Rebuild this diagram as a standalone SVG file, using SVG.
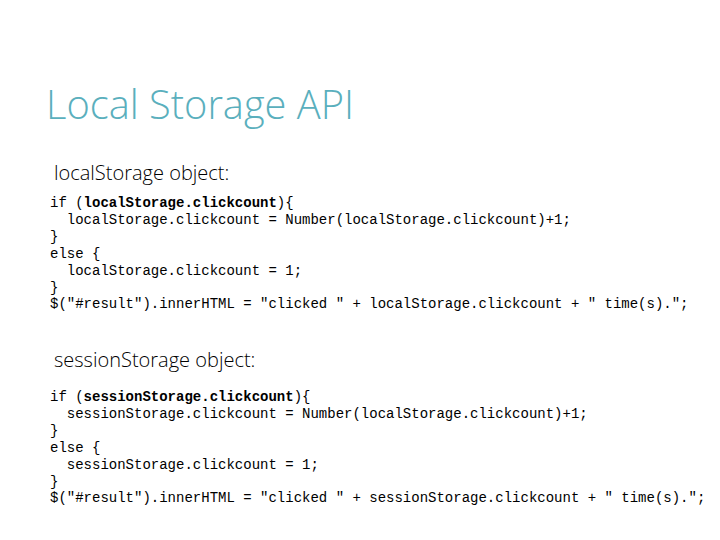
<svg xmlns="http://www.w3.org/2000/svg" width="720" height="540" viewBox="0 0 720 540">
<style>
.t{font-family:"Open Sans","Liberation Sans",sans-serif;font-weight:300;font-size:40px;fill:#5AAFBD}
.h{font-family:"Open Sans","Liberation Sans",sans-serif;font-weight:300;font-size:20px;fill:#000}
.c{font-family:"Liberation Mono","Courier New",monospace;font-size:14px;fill:#000;white-space:pre}
.b{font-weight:bold}
</style>
<rect width="720" height="540" fill="#fff"/>
<text class="t" x="46" y="119" textLength="308" lengthAdjust="spacingAndGlyphs">Local Storage API</text>
<text class="h" x="54" y="180">localStorage object:</text>
<g class="c">
<text x="50" y="207" xml:space="preserve">if (<tspan class="b">localStorage.clickcount</tspan>){</text>
<text x="50" y="224" xml:space="preserve">  localStorage.clickcount = Number(localStorage.clickcount)+1;</text>
<text x="50" y="241">}</text>
<text x="50" y="258">else {</text>
<text x="50" y="275" xml:space="preserve">  localStorage.clickcount = 1;</text>
<text x="50" y="292">}</text>
<text x="50" y="308">$("#result").innerHTML = "clicked " + localStorage.clickcount + " time(s).";</text>
</g>
<text class="h" x="54" y="367">sessionStorage object:</text>
<g class="c">
<text x="50" y="401" xml:space="preserve">if (<tspan class="b">sessionStorage.clickcount</tspan>){</text>
<text x="50" y="418" xml:space="preserve">  sessionStorage.clickcount = Number(localStorage.clickcount)+1;</text>
<text x="50" y="435">}</text>
<text x="50" y="452">else {</text>
<text x="50" y="469" xml:space="preserve">  sessionStorage.clickcount = 1;</text>
<text x="50" y="486">}</text>
<text x="50" y="502">$("#result").innerHTML = "clicked " + sessionStorage.clickcount + " time(s).";</text>
</g>
</svg>
